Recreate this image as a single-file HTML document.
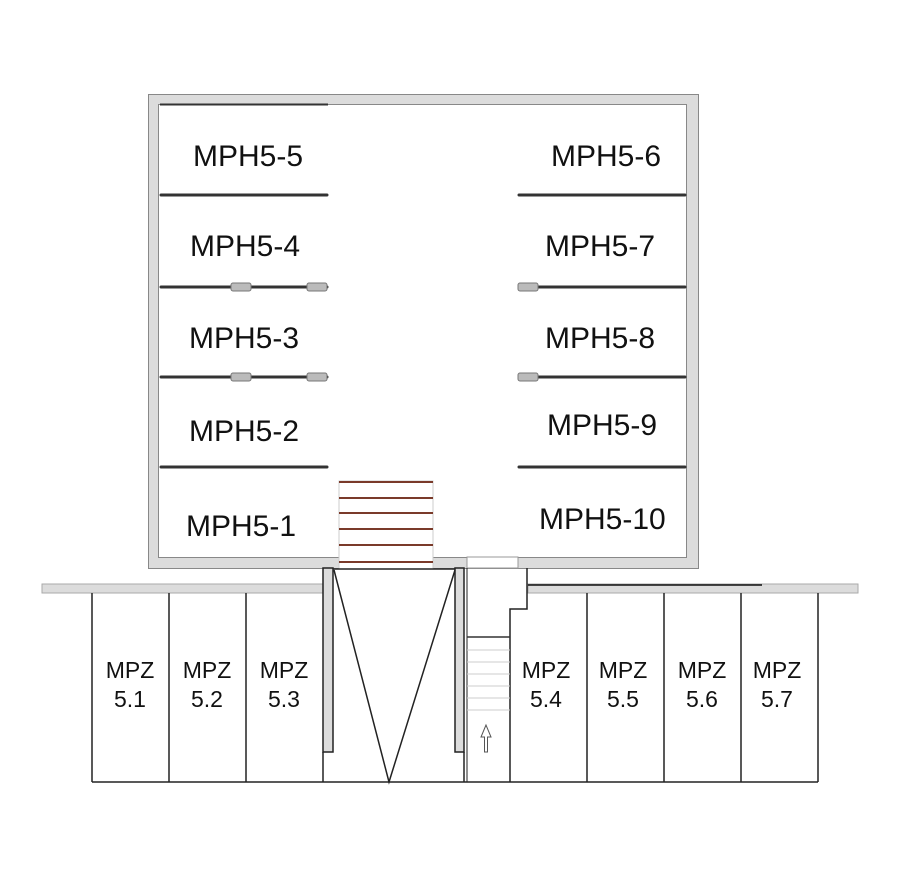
<!DOCTYPE html>
<html><head><meta charset="utf-8"><style>
html,body{margin:0;padding:0;background:#fff;width:900px;height:871px;overflow:hidden}
text{font-family:"Liberation Sans",sans-serif;fill:#111}
</style></head><body>
<svg width="900" height="871" viewBox="0 0 900 871" xmlns="http://www.w3.org/2000/svg">
<rect x="148.5" y="94.5" width="550" height="474" fill="#dcdcdc" stroke="#888" stroke-width="1"/>
<rect x="158.5" y="104.5" width="528" height="453" fill="#fff" stroke="#888" stroke-width="1"/>
<line x1="160" y1="104.5" x2="328" y2="104.5" stroke="#333" stroke-width="2"/>
<rect x="467" y="557" width="51" height="11" fill="#fff" stroke="#999" stroke-width="1"/>
<g stroke="#333" stroke-width="3" stroke-linecap="round">
<line x1="161" y1="195" x2="327" y2="195"/><line x1="161" y1="287" x2="327" y2="287"/>
<line x1="161" y1="377" x2="327" y2="377"/><line x1="161" y1="467" x2="327" y2="467"/>
<line x1="519" y1="195" x2="685" y2="195"/><line x1="519" y1="287" x2="685" y2="287"/>
<line x1="519" y1="377" x2="685" y2="377"/><line x1="519" y1="467" x2="685" y2="467"/>
</g>
<g fill="#bbb" stroke="#777" stroke-width="1">
<rect x="231" y="283" width="20" height="8" rx="2"/><rect x="307" y="283" width="20" height="8" rx="2"/>
<rect x="231" y="373" width="20" height="8" rx="2"/><rect x="307" y="373" width="20" height="8" rx="2"/>
<rect x="518" y="283" width="20" height="8" rx="2"/><rect x="518" y="373" width="20" height="8" rx="2"/>
</g>
<g font-size="30">
<text x="193" y="166">MPH5-5</text><text x="190" y="256">MPH5-4</text>
<text x="189" y="348">MPH5-3</text><text x="189" y="441">MPH5-2</text>
<text x="186" y="536">MPH5-1</text>
<text x="551" y="166">MPH5-6</text><text x="545" y="256">MPH5-7</text>
<text x="545" y="348">MPH5-8</text><text x="547" y="435">MPH5-9</text>
<text x="539" y="529">MPH5-10</text>
</g>
<rect x="339" y="481" width="94" height="88" fill="#fff" stroke="#ccc"/>
<g stroke="#7a3a2a" stroke-width="2">
<line x1="339" y1="482" x2="433" y2="482"/><line x1="339" y1="498" x2="433" y2="498"/>
<line x1="339" y1="513" x2="433" y2="513"/><line x1="339" y1="529" x2="433" y2="529"/>
<line x1="339" y1="545" x2="433" y2="545"/><line x1="339" y1="562" x2="433" y2="562"/>
</g>
<rect x="42" y="584" width="281" height="9" fill="#dcdcdc" stroke="#aaa" stroke-width="1"/>
<rect x="528" y="584" width="330" height="9" fill="#dcdcdc" stroke="#aaa" stroke-width="1"/>
<line x1="528" y1="585" x2="762" y2="585" stroke="#111" stroke-width="1.5"/>
<g stroke="#222" stroke-width="1.5" fill="none">
<line x1="92" y1="593" x2="92" y2="782"/><line x1="169" y1="593" x2="169" y2="782"/>
<line x1="246" y1="593" x2="246" y2="782"/>
<line x1="587" y1="593" x2="587" y2="782"/><line x1="664" y1="593" x2="664" y2="782"/>
<line x1="741" y1="593" x2="741" y2="782"/><line x1="818" y1="593" x2="818" y2="782"/>
<line x1="92" y1="782" x2="818" y2="782"/>
</g>
<rect x="323" y="568" width="10" height="184" fill="#dcdcdc" stroke="#222" stroke-width="1.5"/>
<rect x="455" y="568" width="9" height="184" fill="#dcdcdc" stroke="#222" stroke-width="1.5"/>
<g stroke="#222" stroke-width="1.5" fill="none">
<line x1="323" y1="752" x2="323" y2="782"/><line x1="464" y1="752" x2="464" y2="782"/>
<line x1="333" y1="569" x2="455" y2="569"/>
<polyline points="334,570 389,782 455,570"/>
<polyline points="527,568 527,609 510,609 510,782"/>
</g>
<line x1="467" y1="568" x2="467" y2="782" stroke="#222" stroke-width="1"/>
<g stroke="#ccc" stroke-width="1">
<line x1="467" y1="650" x2="510" y2="650"/><line x1="467" y1="662" x2="510" y2="662"/>
<line x1="467" y1="674" x2="510" y2="674"/><line x1="467" y1="686" x2="510" y2="686"/>
<line x1="467" y1="698" x2="510" y2="698"/><line x1="467" y1="710" x2="510" y2="710"/>
</g>
<line x1="467" y1="637" x2="510" y2="637" stroke="#333" stroke-width="1.5"/>
<path d="M486 725 L481 737 L484.5 737 L484.5 752 L487.5 752 L487.5 737 L491 737 Z" fill="#fff" stroke="#555" stroke-width="1"/>
<g font-size="23" text-anchor="middle">
<text x="130" y="678">MPZ</text><text x="130" y="707">5.1</text>
<text x="207" y="678">MPZ</text><text x="207" y="707">5.2</text>
<text x="284" y="678">MPZ</text><text x="284" y="707">5.3</text>
<text x="546" y="678">MPZ</text><text x="546" y="707">5.4</text>
<text x="623" y="678">MPZ</text><text x="623" y="707">5.5</text>
<text x="702" y="678">MPZ</text><text x="702" y="707">5.6</text>
<text x="777" y="678">MPZ</text><text x="777" y="707">5.7</text>
</g>
</svg>
</body></html>
